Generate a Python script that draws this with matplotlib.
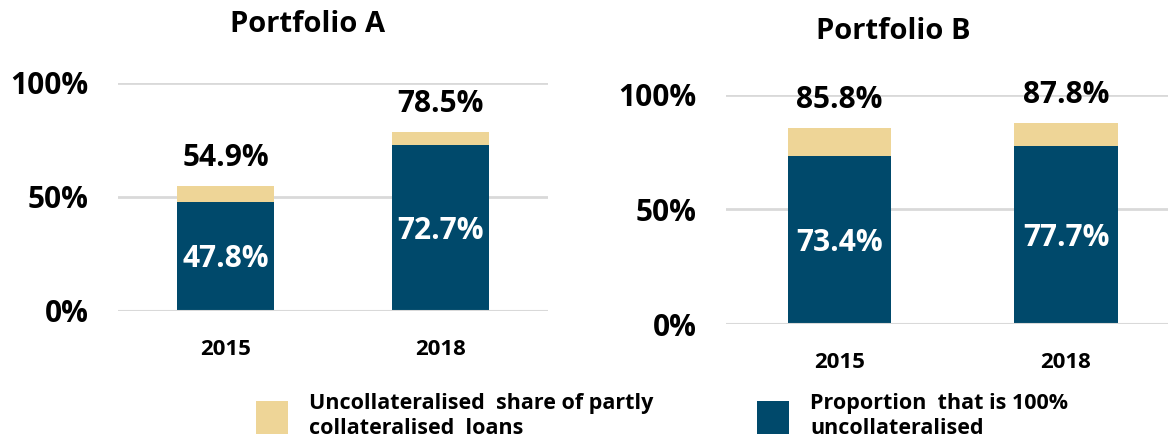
import matplotlib
matplotlib.use("Agg")
import matplotlib.pyplot as plt
from matplotlib.patches import Patch

plt.rcParams['font.family'] = ['Open Sans', 'DejaVu Sans']
plt.rcParams['font.weight'] = 'bold'

years = ["2015", "2018"]
titles = ["Portfolio A", "Portfolio B"]
# share that is fully uncollateralised (%)
fully_a = [47.8, 72.7]
fully_b = [73.4, 77.7]
# total uncollateralised share including partly collateralised loans (%)
total_a = [54.9, 78.5]
total_b = [85.8, 87.8]
yticks = [0, 50, 100]
ytick_labels = ["0%", "50%", "100%"]
legend_labels = ["Uncollateralised  share of partly\ncollateralised  loans",
                 "Proportion  that is 100%\nuncollateralised"]

NAVY = "#00496B"
TAN = "#EED597"
GRID = "#D9D9D9"

W, H = 1168, 440
fig = plt.figure(figsize=(W / 100, H / 100), dpi=100)


def px_axes(x0, x1, y_top, y_bottom):
    return fig.add_axes([x0 / W, 1 - y_bottom / H, (x1 - x0) / W, (y_bottom - y_top) / H])


panels = [
    (px_axes(118, 548, 83, 311), fully_a, total_a, titles[0], (-0.5, 1.5), 0.442, 1.222),
    (px_axes(726, 1168, 95, 324), fully_b, total_b, titles[1], (-0.5, 1.45), 0.378, 1.245),
]

for ax, fully, total, title, xl, tx, ty in panels:
    x = list(range(len(years)))
    partly = [t - f for t, f in zip(total, fully)]
    ax.bar(x, fully, width=0.455, color=NAVY, zorder=2)
    ax.bar(x, partly, bottom=fully, width=0.455, color=TAN, zorder=2)
    for xi, f, t in zip(x, fully, total):
        ax.annotate(f"{f}%", (xi, f / 2), xytext=(0, -2), textcoords="offset points",
                    ha="center", va="center", color="white",
                    fontsize=21.5, fontweight="bold", zorder=3)
        ax.annotate(f"{t}%", (xi, t), xytext=(0, 20), textcoords="offset points",
                    ha="center", va="center", color="black", fontsize=21.5,
                    fontweight="bold", annotation_clip=False)
    ax.set_xlim(*xl)
    ax.set_ylim(0, 100)
    ax.set_yticks(yticks)
    ax.set_yticklabels(ytick_labels)
    ax.set_xticks(x)
    ax.set_xticklabels(years)
    ax.tick_params(axis="y", length=0, labelsize=21.5, pad=21)
    ax.tick_params(axis="x", length=0, labelsize=16, pad=20)
    ax.grid(axis="y", color=GRID, linewidth=2, zorder=0)
    ax.axhline(0, color=GRID, linewidth=1.5, zorder=2.5)
    for s in ax.spines.values():
        s.set_visible(False)
    ax.set_axisbelow(True)
    ax.set_title(title, fontsize=21, fontweight="bold", pad=0, x=tx, y=ty)
    for lab in ax.get_yticklabels() + ax.get_xticklabels():
        lab.set_fontweight("bold")

handles = [Patch(facecolor=TAN), Patch(facecolor=NAVY)]
fig.legend(handles[:1], legend_labels[:1], loc="center left",
           bbox_to_anchor=(237 / W, 1 - 416 / H), frameon=False,
           handlelength=1.45, handleheight=2.0, handletextpad=1.0,
           prop={"weight": "bold", "size": 15.5})
fig.legend(handles[1:], legend_labels[1:], loc="center left",
           bbox_to_anchor=(738 / W, 1 - 416 / H), frameon=False,
           handlelength=1.45, handleheight=2.0, handletextpad=1.0,
           prop={"weight": "bold", "size": 15.5})

fig.savefig("out.png", dpi=100, facecolor="white")
